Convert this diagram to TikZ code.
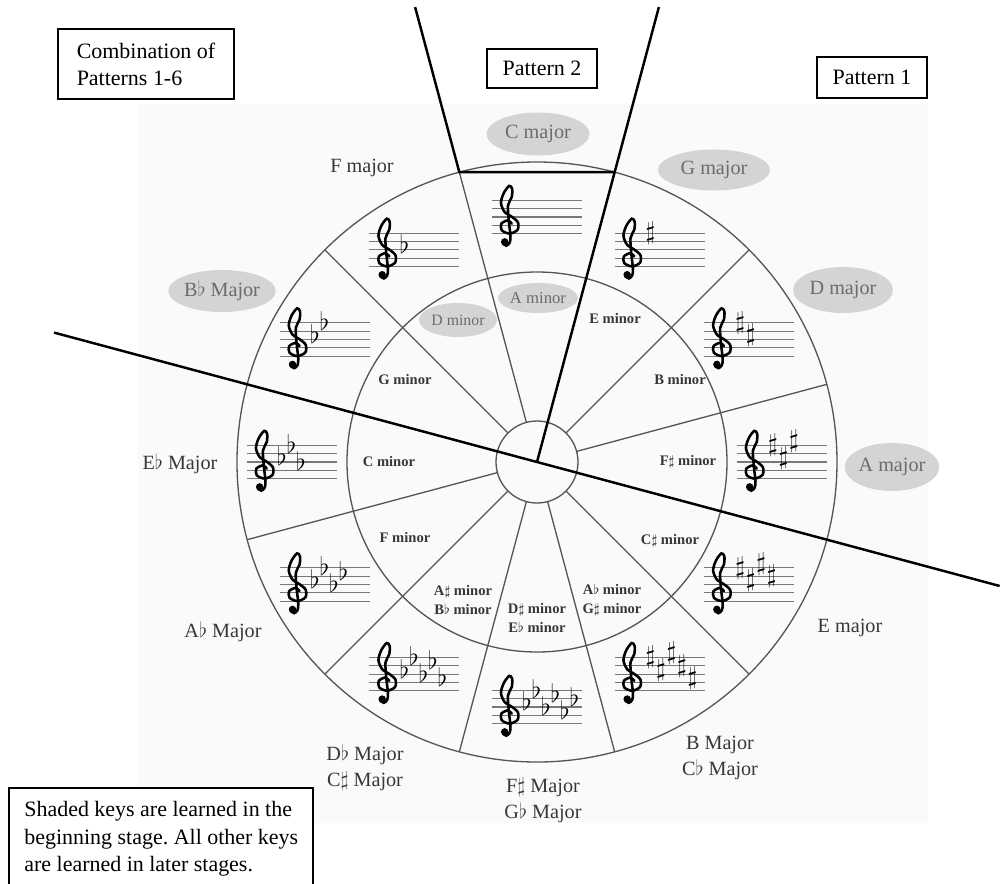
\documentclass[tikz,border=0pt]{standalone}
\usepackage{fontspec}
\setmainfont{Liberation Serif}
\usepackage{tikz}
\usetikzlibrary{shapes.geometric, positioning}
\frenchspacing
\definecolor{ringgray}{RGB}{85,85,85}
\definecolor{staffgray}{RGB}{120,120,120}
\definecolor{shadefill}{RGB}{212,212,212}
\definecolor{shadetext}{RGB}{108,108,108}
\definecolor{labelgray}{RGB}{55,55,55}
\definecolor{panelgray}{RGB}{250,250,250}

% staff with treble clef, centred at #1
\newcommand{\keystaff}[1]{%
  \begin{scope}[shift={#1}]
    \foreach \k in {-2,...,2}
      \draw[staffline] (-45,\k*8.3) -- (45,\k*8.3);
    \begin{scope}[shift={(-29,-8.3)}, scale=8.3]
      \draw[clefline] plot[smooth] coordinates {(0.45,0.2) (0.0,0.6) (-0.8,0.2) (-0.75,-0.6) (0.2,-1.0) (1.15,-0.55) (1.2,0.35) (0.5,1.0) (-0.4,1.6) (-0.85,2.7) (-0.5,3.9) (0.15,4.75) (0.5,4.4) (0.45,3.4) (0.0,2.4) (0.1,0.5) (0.3,-1.3) (0.2,-2.1) (-0.2,-2.45) (-0.6,-2.2)};
      \fill (-0.4,-2.0) circle (0.45);
    \end{scope}
  \end{scope}}
% accidentals: #1 staff centre, #2 name, #3 staff steps (0 = bottom line)
\newcommand{\addsharps}[3]{%
  \begin{scope}[shift={#1}]
    \foreach \s [count=\i from 0] in {#3}
      \node[sharpsign] (#2-\i) at (-9+10.5*\i,-16.6+4.15*\s) {$\sharp$};
  \end{scope}}
\newcommand{\addflats}[3]{%
  \begin{scope}[shift={#1}]
    \foreach \s [count=\i from 0] in {#3}
      \node[flatsign] (#2-\i) at (-10+9.5*\i,-16.6+4.15*\s) {$\flat$};
  \end{scope}}

\begin{document}
\begin{tikzpicture}[
    x=0.02cm, y=0.02cm,
    ring/.style={draw=ringgray, line width=0.75pt},
    staffline/.style={draw=staffgray, line width=0.6pt},
    clefline/.style={line width=1.45pt, line cap=round},
    sharpsign/.style={inner sep=0pt, font=\fontsize{15.5}{15.5}\selectfont},
    flatsign/.style={inner sep=0pt, anchor=base, yshift=-2.2pt, font=\fontsize{14}{14}\selectfont},
    pattline/.style={line width=1.4pt},
    box/.style={draw, line width=0.7pt, fill=white, align=left, font=\fontsize{12.5}{15.3}\selectfont},
    major/.style={text=labelgray, align=center, font=\fontsize{11.5}{14.7}\selectfont},
    minor/.style={text=labelgray, align=center, font=\fontsize{8.3}{10.8}\selectfont\bfseries},
    shaded/.style={ellipse, fill=shadefill, text=shadetext, inner sep=0pt, font=\fontsize{11.5}{14}\selectfont}
]
\useasboundingbox (-537,-421) rectangle (463,462);
\fill[panelgray] (-399,358) rectangle (391,-361);

% rings and spokes
\draw[ring] (0,0) circle (41) circle (190) circle (300);
\foreach \a in {15,45,...,345}
  \draw[ring] (\a:41) -- (\a:300);

% key signatures
\foreach \a in {90,60,...,-240}
  {\keystaff{(\a:245)}}
\addsharps{(60:245)}{gs}{8}
\addsharps{(30:245)}{ds}{8,5}
\addsharps{(0:245)}{as}{8,5,9}
\addsharps{(-30:245)}{es}{8,5,9,6}
\addsharps{(-60:245)}{bs}{8,5,9,6,3}
\addflats{(120:245)}{ff}{4}
\addflats{(150:245)}{bf}{4,7}
\addflats{(180:245)}{ef}{4,7,3}
\addflats{(210:245)}{af}{4,7,3,6}
\addflats{(240:245)}{df}{4,7,3,6,2}
\addflats{(270:245)}{gf}{4,7,3,6,2,5}

% major keys
\node[shaded, minimum width=2.06cm, minimum height=0.86cm] (cmaj) at (1,328) {C major};
\node[shaded, minimum width=2.24cm, minimum height=0.82cm] (gmaj) at (177,292) {G major};
\node[shaded, minimum width=2.0cm, minimum height=0.92cm] (dmaj) at (306,172) {D major};
\node[shaded, minimum width=1.86cm, minimum height=0.96cm] (amaj) at (355,-5) {A major};
\node[shaded, minimum width=2.02cm, minimum height=0.84cm] (bbmaj) at (-315,171) {B$\flat$ Major};
\node[major] (emaj) at (313,-166) {E major};
\node[major] (bmaj) at (183,-296) {B Major\\C$\flat$ Major};
\node[major] (fsmaj) at (6,-338) {F$\sharp$ Major\\G$\flat$ Major};
\node[major] (dbmaj) at (-172,-306) {D$\flat$ Major\\C$\sharp$ Major};
\node[major] (abmaj) at (-314,-170) {A$\flat$ Major};
\node[major] (ebmaj) at (-357,-2) {E$\flat$ Major};
\node[major] (fmaj) at (-175,294) {F major};

% minor keys
\node[shaded, minimum width=1.6cm, minimum height=0.6cm, font=\fontsize{9.5}{11}\selectfont] (amin) at (1,164) {A minor};
\node[shaded, minimum width=1.56cm, minimum height=0.68cm, font=\fontsize{9}{11}\selectfont] (dmin) at (-79,142) {D minor};
\node[minor] (emin) at (78,143) {E minor};
\node[minor] (bmin) at (143,82) {B minor};
\node[minor] (fsmin) at (151,0) {F$\sharp$ minor};
\node[minor] (csmin) at (133,-79) {C$\sharp$ minor};
\node[minor] (abmin) at (75,-138) {A$\flat$ minor\\G$\sharp$ minor};
\node[minor] (dsmin) at (0,-156) {D$\sharp$ minor\\E$\flat$ minor};
\node[minor] (asmin) at (-74,-138) {A$\sharp$ minor\\B$\flat$ minor};
\node[minor] (fmin) at (-132,-76) {F minor};
\node[minor] (cmin) at (-148,0) {C minor};
\node[minor] (gmin) at (-132,82) {G minor};

% pattern borders
\coordinate (o) at (0,0);
\coordinate (p2top) at (105:471);
\coordinate (rimL) at (105:300);
\coordinate (rimR) at (75:300);
\coordinate (p1top) at (75:471);
\coordinate (cutL) at (165:500);
\coordinate (cutR) at (345:479);
\draw[pattline] (p2top) -- (rimL) -- (rimR);
\draw[pattline] (o) -- (p1top);
\draw[pattline] (cutL) -- (cutR);

% captions
\node[box, minimum width=3.52cm, minimum height=1.4cm] (combo) at (-391,398) {Combination of\\Patterns 1-6};
\node[box, minimum width=2.2cm, minimum height=0.78cm] (pat2) at (5,393.5) {Pattern 2};
\node[box, minimum width=2.2cm, minimum height=0.82cm] (pat1) at (335,384.5) {Pattern 1};
\draw[line width=0.7pt, fill=white] (-528,-326) rectangle (-224,-440);
\node[anchor=north west, align=left, inner sep=0pt, font=\fontsize{12.5}{15.6}\selectfont] (note) at (-513,-339) {Shaded keys are learned in the\\beginning stage. All other keys\\are learned in later stages.};
\end{tikzpicture}
\end{document}
